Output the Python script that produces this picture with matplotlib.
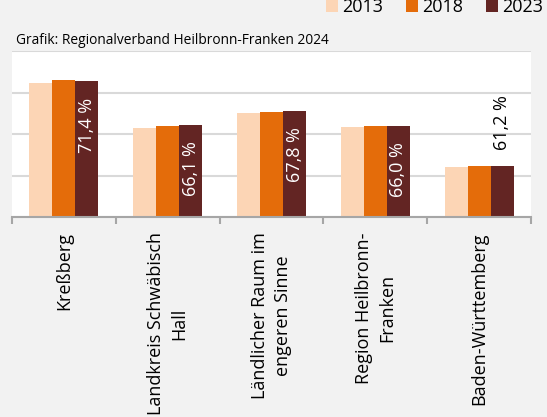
import numpy as np
import matplotlib.pyplot as plt

plt.rcParams['font.family'] = ['Open Sans', 'DejaVu Sans']

# Daten
kategorien = ['Kreßberg', 'Landkreis Schwäbisch\nHall', 'Ländlicher Raum im\nengeren Sinne',
              'Region Heilbronn-\nFranken', 'Baden-Württemberg']
jahre = ['2013', '2018', '2023']
werte_2013 = [71.2, 65.7, 67.5, 65.8, 61.0]
werte_2018 = [71.5, 66.0, 67.7, 66.0, 61.2]
werte_2023 = [71.4, 66.1, 67.8, 66.0, 61.2]
farben = ['#fcd5b5', '#e46c0a', '#632523']

W, H = 547, 417
fig = plt.figure(figsize=(W / 100, H / 100), dpi=100, facecolor='#f2f2f2')
ax = fig.add_axes([12 / W, 1 - 217 / H, (531 - 12) / W, (217 - 51) / H])
ax.set_facecolor('white')

x = np.arange(len(kategorien))
b = 0.222
for i, (werte, farbe, jahr) in enumerate(zip([werte_2013, werte_2018, werte_2023], farben, jahre)):
    ax.bar(x + (i - 1) * b, werte, b, color=farbe, label=jahr, zorder=3)

ax.set_ylim(55, 75)
ax.set_xlim(-0.5, 4.5)
ax.set_yticks([55, 60, 65, 70, 75])
ax.yaxis.grid(True, color='#d9d9d9', lw=1.5, zorder=0)
ax.tick_params(axis='y', left=False, labelleft=False)
for s in ['left', 'right', 'top']:
    ax.spines[s].set_visible(False)
ax.spines['bottom'].set_color('#a6a6a6')
ax.spines['bottom'].set_linewidth(1.5)
ax.spines['bottom'].set_zorder(4)

# Striche an den Kategoriegrenzen, Beschriftung in der Mitte
ax.set_xticks(np.arange(-0.5, 5, 1))
ax.set_xticklabels([])
ax.tick_params(axis='x', which='major', length=5, color='#a6a6a6', width=1.5)
ax.set_xticks(x, minor=True)
ax.set_xticklabels(kategorien, minor=True, rotation=90, fontsize=13,
                   va='top', ha='center', multialignment='center', linespacing=1.4)
ax.tick_params(axis='x', which='minor', length=0, pad=11)

# Datenbeschriftungen 2023
for xi, v in zip(x, werte_2023):
    txt = f'{v:.1f} %'.replace('.', ',')
    if v > 62:
        ax.annotate(txt, (xi + b, v), xytext=(0, -12), textcoords='offset points',
                    rotation=90, ha='center', va='top', color='white', fontsize=13, zorder=5)
    else:
        ax.annotate(txt, (xi + b, v), xytext=(0, 11.5), textcoords='offset points',
                    rotation=90, ha='center', va='bottom', color='black', fontsize=13, zorder=5)

fig.text(16 / W, 1 - 41 / H, 'Grafik: Regionalverband Heilbronn-Franken 2024',
         fontsize=9.9, va='center', ha='left')

ax.legend(loc='upper left', bbox_to_anchor=(326 / W, 1 + 2 / H), bbox_transform=fig.transFigure,
          ncol=3, frameon=False, fontsize=13, handlelength=0.67, handleheight=0.67,
          handletextpad=0.22, columnspacing=1.28, borderpad=0, borderaxespad=0)

fig.savefig('out.png', dpi=100, facecolor=fig.get_facecolor())
